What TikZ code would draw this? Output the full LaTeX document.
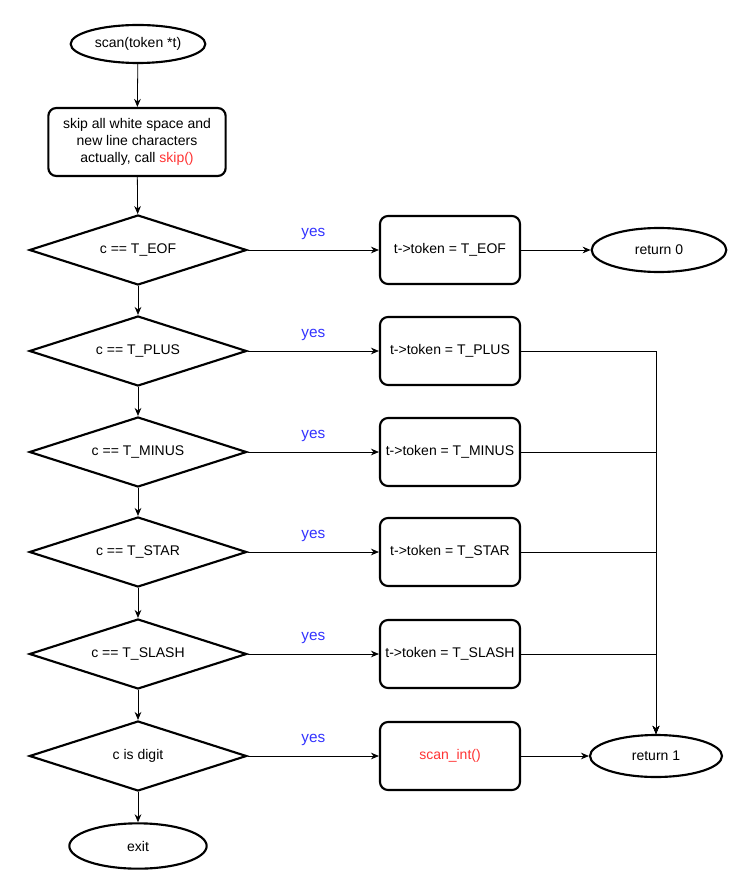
\documentclass[tikz,border=0pt]{standalone}
\usepackage{fontspec}
\setmainfont{Liberation Sans}
\usetikzlibrary{shapes.geometric,arrows.meta}
\definecolor{yesblue}{RGB}{51,51,255}
\definecolor{callred}{RGB}{255,51,51}
\begin{document}
\begin{tikzpicture}[x=0.75pt,y=-0.75pt,
  font=\fontsize{10.5pt}{12.5pt}\selectfont,
  sketch/.style={draw=black,line width=1.6pt,fill=white},
  terminal/.style={sketch,ellipse,inner sep=0pt},
  process/.style={sketch,rectangle,rounded corners=6pt,inner sep=1pt,align=center},
  decision/.style={sketch,diamond,inner sep=0pt,minimum width=163pt,minimum height=52.5pt,aspect=3.1},
  flow/.style={line width=0.6pt,-{Stealth[length=6pt,width=5pt]}},
  yes/.style={midway,above=4pt,text=yesblue,font=\fontsize{11.5pt}{13pt}\selectfont}
]
\useasboundingbox (0,0) rectangle (738,884);

% left column: entry, whitespace skip and the chain of tests
\node[terminal,minimum width=101pt,minimum height=28.5pt] (start) at (138,44) {scan(token *t)};
\node[process,minimum width=133pt,minimum height=51pt] (skip) at (137,142)
  {skip all white space and\\new line characters\\actually, call \textcolor{callred}{skip()}};
\node[decision] (d1) at (138,250) {c == T\_EOF};
\node[decision] (d2) at (138,351) {c == T\_PLUS};
\node[decision] (d3) at (138,452) {c == T\_MINUS};
\node[decision] (d4) at (138,552) {c == T\_STAR};
\node[decision] (d5) at (138,654) {c == T\_SLASH};
\node[decision] (d6) at (138,756) {c is digit};
\node[terminal,minimum width=103pt,minimum height=34pt] (exit) at (138,846) {exit};

% middle column: actions taken on a match
\node[process,minimum width=105pt,minimum height=51pt] (a1) at (450,250) {t->token = T\_EOF};
\node[process,minimum width=105pt,minimum height=51pt] (a2) at (450,351) {t->token = T\_PLUS};
\node[process,minimum width=105pt,minimum height=51pt] (a3) at (450,452) {t->token = T\_MINUS};
\node[process,minimum width=105pt,minimum height=51pt] (a4) at (450,552) {t->token = T\_STAR};
\node[process,minimum width=105pt,minimum height=51pt] (a5) at (450,654) {t->token = T\_SLASH};
\node[process,minimum width=105pt,minimum height=51pt,text=callred] (a6) at (450,756) {scan\_int()};

% right column: return values
\node[terminal,minimum width=101pt,minimum height=33pt] (ret0) at (659,250) {return 0};
\node[terminal,minimum width=99pt,minimum height=31.5pt] (ret1) at (656,756) {return 1};

% main chain
\draw[flow] (start) -- (skip);
\draw[flow] (skip) -- (d1);
\draw[flow] (d1) -- (d2);
\draw[flow] (d2) -- (d3);
\draw[flow] (d3) -- (d4);
\draw[flow] (d4) -- (d5);
\draw[flow] (d5) -- (d6);
\draw[flow] (d6) -- (exit);

% yes branches
\draw[flow] (d1) -- node[yes] {yes} (a1);
\draw[flow] (d2) -- node[yes] {yes} (a2);
\draw[flow] (d3) -- node[yes] {yes} (a3);
\draw[flow] (d4) -- node[yes] {yes} (a4);
\draw[flow] (d5) -- node[yes] {yes} (a5);
\draw[flow] (d6) -- node[yes] {yes} (a6);

% results
\draw[flow] (a1) -- (ret0);
\draw[flow] (a2.east) -| (ret1.north);
\draw[flow] (a3.east) -| (ret1.north);
\draw[flow] (a4.east) -| (ret1.north);
\draw[flow] (a5.east) -| (ret1.north);
\draw[flow] (a6) -- (ret1);
\end{tikzpicture}
\end{document}
